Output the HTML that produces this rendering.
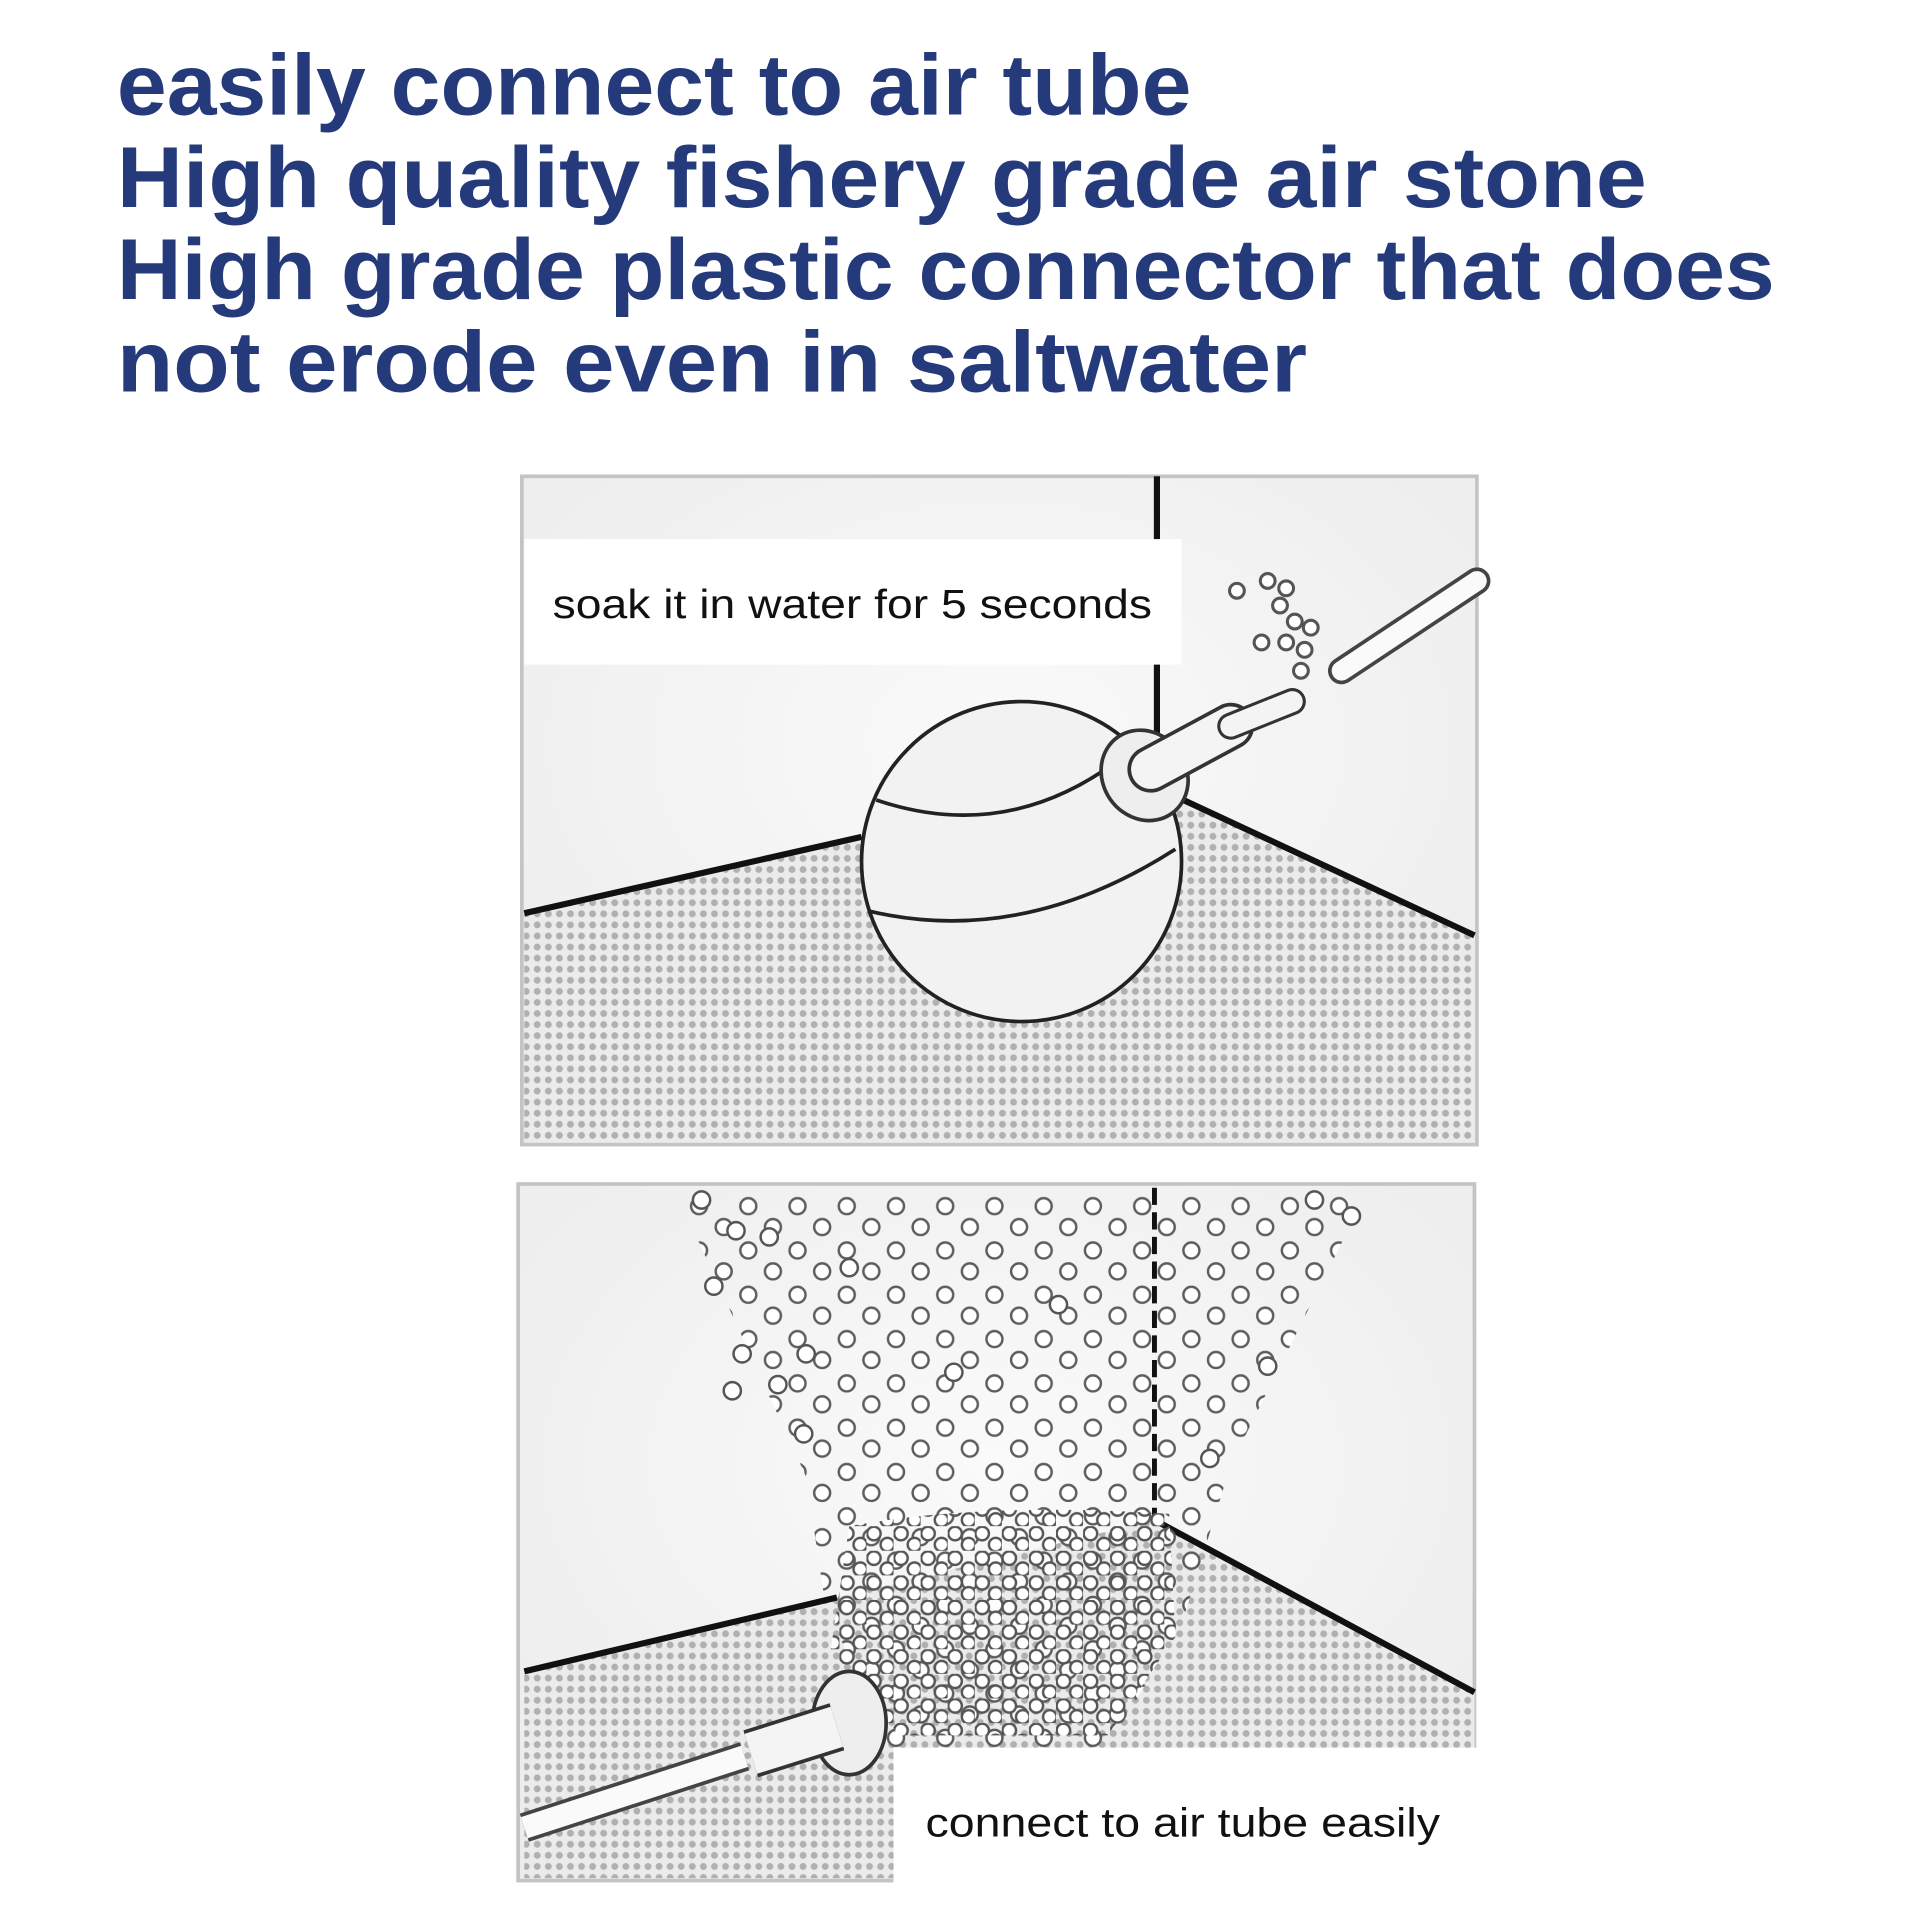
<!DOCTYPE html>
<html><head><meta charset="utf-8"><style>
html,body{margin:0;padding:0;background:#fff;}
svg{display:block;}
</style></head><body>
<svg width="1920" height="1920" viewBox="0 0 1560 1560" xmlns="http://www.w3.org/2000/svg">
<defs>
<pattern id="dots" width="9" height="9" patternUnits="userSpaceOnUse">
<rect width="9" height="9" fill="#ebebeb"/><circle cx="4.5" cy="4.5" r="2.8" fill="#b0b0b0"/>
</pattern>
<pattern id="bub" width="22" height="20" patternUnits="userSpaceOnUse">
<circle cx="6" cy="6" r="5.5" fill="#fff" stroke="#555" stroke-width="2"/>
<circle cx="17" cy="15" r="5.5" fill="#fff" stroke="#555" stroke-width="2"/>
</pattern>
<pattern id="bub2" width="40" height="36" patternUnits="userSpaceOnUse">
<circle cx="8" cy="8" r="6.5" fill="#fff" stroke="#555" stroke-width="2"/>
<circle cx="28" cy="25" r="6.5" fill="#fff" stroke="#555" stroke-width="2"/>
</pattern>
<radialGradient id="wall" cx="0.5" cy="0.4" r="0.7">
<stop offset="0" stop-color="#fafafa"/><stop offset="1" stop-color="#ececec"/>
</radialGradient>
</defs>
<g font-family="Liberation Sans, sans-serif" font-weight="bold" font-size="70" fill="#253a7a">
<text x="95" y="93" textLength="873" lengthAdjust="spacingAndGlyphs">easily connect to air tube</text>
<text x="95" y="168" textLength="1243" lengthAdjust="spacingAndGlyphs">High quality fishery grade air stone</text>
<text x="95" y="243" textLength="1347" lengthAdjust="spacingAndGlyphs">High grade plastic connector that does</text>
<text x="95" y="318" textLength="967" lengthAdjust="spacingAndGlyphs">not erode even in saltwater</text>
</g>
<!-- top panel -->
<rect x="424" y="387" width="776" height="543" fill="url(#wall)" stroke="#c4c4c4" stroke-width="3"/>
<polygon points="426,742 700,680 940,640 1198,760 1198,928 426,928" fill="url(#dots)"/>
<polyline points="426,742 700,680" fill="none" stroke="#111" stroke-width="5"/>
<polyline points="940,640 1198,760" fill="none" stroke="#111" stroke-width="5"/>
<line x1="940" y1="387" x2="940" y2="640" stroke="#111" stroke-width="5"/>
<circle cx="830" cy="700" r="130" fill="#f2f2f2" stroke="#222" stroke-width="3"/>
<path d="M712,650 Q830,690 930,600" fill="none" stroke="#222" stroke-width="3"/>
<path d="M705,740 Q830,770 955,690" fill="none" stroke="#222" stroke-width="3"/>
<ellipse cx="930" cy="630" rx="34" ry="38" fill="#eee" stroke="#333" stroke-width="3" transform="rotate(-35 930 630)"/>
<line x1="935" y1="625" x2="1000" y2="590" stroke="#333" stroke-width="38" stroke-linecap="round"/>
<line x1="935" y1="625" x2="1000" y2="590" stroke="#f4f4f4" stroke-width="32" stroke-linecap="round"/>
<line x1="1000" y1="590" x2="1050" y2="570" stroke="#333" stroke-width="22" stroke-linecap="round"/>
<line x1="1000" y1="590" x2="1050" y2="570" stroke="#f4f4f4" stroke-width="17" stroke-linecap="round"/>
<line x1="1090" y1="545" x2="1200" y2="472" stroke="#444" stroke-width="22" stroke-linecap="round"/>
<line x1="1090" y1="545" x2="1200" y2="472" stroke="#fafafa" stroke-width="16" stroke-linecap="round"/>
<g fill="#fff" stroke="#555" stroke-width="2.5">
<circle cx="1005" cy="480" r="6"/><circle cx="1030" cy="472" r="6"/><circle cx="1045" cy="478" r="6"/><circle cx="1040" cy="492" r="6"/><circle cx="1052" cy="505" r="6"/><circle cx="1065" cy="510" r="6"/><circle cx="1025" cy="522" r="6"/><circle cx="1045" cy="522" r="6"/><circle cx="1060" cy="528" r="6"/><circle cx="1057" cy="545" r="6"/>
</g>
<rect x="426" y="438" width="534" height="102" fill="#fff"/>
<text x="449" y="502" font-family="Liberation Sans, sans-serif" font-size="33" fill="#111" textLength="487" lengthAdjust="spacingAndGlyphs">soak it in water for 5 seconds</text>
<!-- bottom panel -->
<rect x="421" y="962" width="777" height="566" fill="url(#wall)" stroke="#c4c4c4" stroke-width="3"/>
<polygon points="426,1358 680,1298 938,1235 1198,1375 1198,1526 426,1526" fill="url(#dots)"/>
<polyline points="426,1358 680,1298" fill="none" stroke="#111" stroke-width="5"/>
<polyline points="938,1235 1198,1375" fill="none" stroke="#111" stroke-width="5"/>
<line x1="938" y1="965" x2="938" y2="1235" stroke="#111" stroke-width="4" stroke-dasharray="14 6"/>
<path d="M550,970 L1110,970 L1000,1190 L960,1320 L900,1420 L720,1420 L670,1300 L655,1200 Z" fill="url(#bub2)" opacity="0.95"/>
<g fill="#fff" stroke="#555" stroke-width="2">
<circle cx="570" cy="975" r="7"/><circle cx="598" cy="1000" r="7"/><circle cx="625" cy="1005" r="7"/><circle cx="580" cy="1045" r="7"/><circle cx="603" cy="1100" r="7"/><circle cx="595" cy="1130" r="7"/><circle cx="632" cy="1125" r="7"/><circle cx="653" cy="1165" r="7"/><circle cx="983" cy="1185" r="7"/><circle cx="1098" cy="988" r="7"/><circle cx="1068" cy="975" r="7"/><circle cx="1030" cy="1110" r="7"/><circle cx="655" cy="1100" r="7"/><circle cx="690" cy="1030" r="7"/><circle cx="860" cy="1060" r="7"/><circle cx="775" cy="1115" r="7"/>
</g>
<path d="M690,1240 Q800,1220 950,1230 L955,1330 L900,1410 L730,1410 L675,1340 Z" fill="url(#bub)"/>
<ellipse cx="690" cy="1400" rx="30" ry="42" fill="#eee" stroke="#333" stroke-width="3"/>
<line x1="680" y1="1403" x2="610" y2="1425" stroke="#333" stroke-width="40"/>
<line x1="680" y1="1403" x2="610" y2="1425" stroke="#f4f4f4" stroke-width="34"/>
<line x1="605" y1="1427" x2="426" y2="1485" stroke="#444" stroke-width="24"/>
<line x1="605" y1="1427" x2="426" y2="1485" stroke="#fafafa" stroke-width="18"/>
<rect x="726" y="1420" width="476" height="110" fill="#fff"/>
<text x="752" y="1492" font-family="Liberation Sans, sans-serif" font-size="33" fill="#111" textLength="418" lengthAdjust="spacingAndGlyphs">connect to air tube easily</text>
</svg>
</body></html>
